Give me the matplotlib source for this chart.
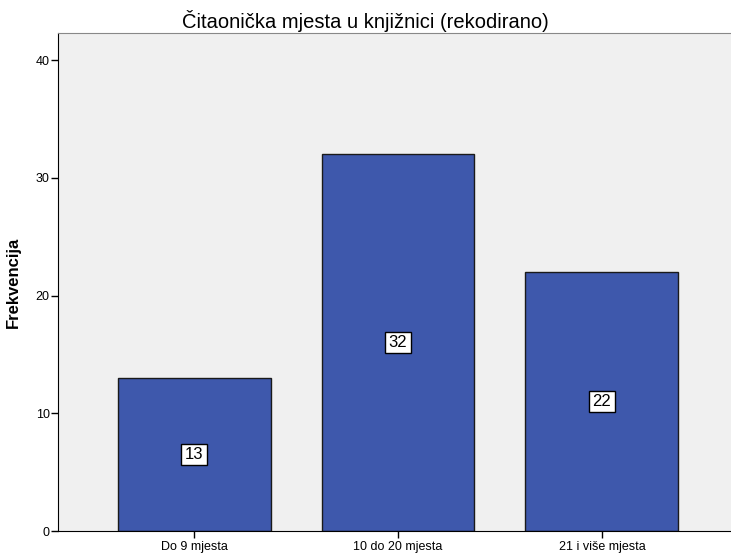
import matplotlib.pyplot as plt
import numpy as np

plt.rcParams['font.family'] = ['Liberation Sans', 'DejaVu Sans']

categories = ['Do 9 mjesta', '10 do 20 mjesta', '21 i više mjesta']
counts = [13, 32, 22]

fig = plt.figure(figsize=(7.31, 5.54), dpi=100)
ax = fig.add_axes([0.0794, 0.0415, 0.9206, 0.899])
ax.set_facecolor('#F0F0F0')

x = np.arange(len(categories))
bars = ax.bar(x, counts, width=0.75, color='#3E58AC', edgecolor='#1a1a1a', linewidth=1)

for xi, v in zip(x, counts):
    ax.text(xi, v / 2, str(v), ha='center', va='center', fontsize=12,
            bbox=dict(boxstyle='square,pad=0.2', fc='white', ec='black', lw=1))

ax.set_xlim(-0.667, 2.633)
ax.set_ylim(0, 42.3)
ax.set_yticks([0, 10, 20, 30, 40])
ax.set_xticks(x)
ax.set_xticklabels(categories, fontsize=9)
ax.tick_params(axis='y', labelsize=9, length=5, width=1, pad=1)
ax.tick_params(axis='x', length=5, width=1, pad=2)

ax.spines['right'].set_visible(False)
ax.spines['top'].set_color('#888888')
ax.spines['left'].set_color('black')
ax.spines['bottom'].set_color('black')

ax.set_ylabel('Frekvencija', fontsize=12, fontweight='bold', labelpad=11)
fig.text(0.5, 1 - 28 / 554, 'Čitaonička mjesta u knjižnici (rekodirano)',
         ha='center', va='baseline', fontsize=14.5)

fig.savefig('out.png', dpi=100)
